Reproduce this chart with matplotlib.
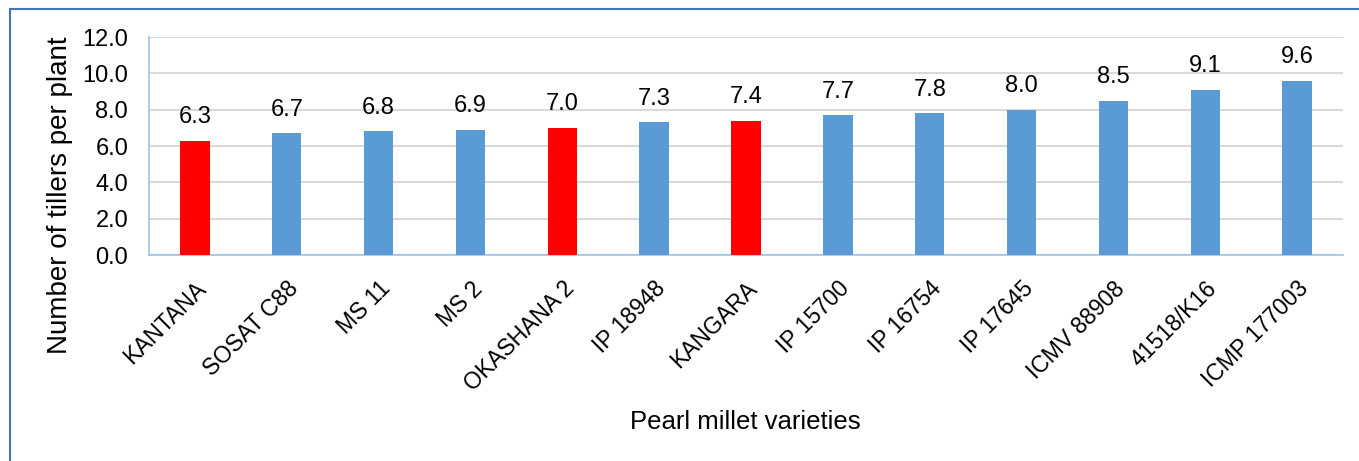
import matplotlib.pyplot as plt
from matplotlib.patches import Rectangle

plt.rcParams['font.family'] = ['Liberation Sans', 'DejaVu Sans']

# data
varieties = ["KANTANA", "SOSAT C88", "MS 11", "MS 2", "OKASHANA 2", "IP 18948",
             "KANGARA", "IP 15700", "IP 16754", "IP 17645", "ICMV 88908",
             "41518/K16", "ICMP 177003"]
tillers = [6.3, 6.7, 6.8, 6.9, 7.0, 7.3, 7.4, 7.7, 7.8, 8.0, 8.5, 9.1, 9.6]
local_varieties = ["KANTANA", "OKASHANA 2", "KANGARA"]

colors = ['#FF0000' if v in local_varieties else '#5B9BD5' for v in varieties]

fig = plt.figure(figsize=(13.59, 4.61), dpi=100)
ax = fig.add_axes([149/1359, 1 - 255/461, (1343 - 149)/1359, (255 - 37)/461])

x = range(len(varieties))
bars = ax.bar(x, tillers, width=0.32, color=colors, zorder=3)
for b, v in zip(bars, tillers):
    ax.annotate(f"{v:.1f}", (b.get_x() + b.get_width()/2, v),
                xytext=(0, 9), textcoords='offset points',
                ha='center', va='bottom', fontsize=17)

ax.set_xlim(-0.5, len(varieties) - 0.5)
ax.set_ylim(0, 12)
ax.set_yticks([0, 2, 4, 6, 8, 10, 12])
ax.set_yticklabels([f"{t:.1f}" for t in [0, 2, 4, 6, 8, 10, 12]], fontsize=17)
ax.set_xticks(list(x))
ax.set_xticklabels(varieties, rotation=45, ha='right', rotation_mode='anchor',
                   fontsize=16.5)
ax.tick_params(axis='y', length=0, pad=15)
ax.tick_params(axis='x', length=0, pad=16)
ax.yaxis.grid(True, color='#D9D9D9', linewidth=1.5, zorder=0)
ax.set_axisbelow(True)

for s in ['top', 'right']:
    ax.spines[s].set_visible(False)
for s in ['left', 'bottom']:
    ax.spines[s].set_color('#9DC3E6')
    ax.spines[s].set_linewidth(1.2)

ax.set_ylabel("Number of tillers per plant", fontsize=20)
ax.yaxis.set_label_coords(-76/1194, (255 - 195)/218)
fig.text(745/1359, 1 - 422/461, "Pearl millet varieties", fontsize=18.5,
         ha='center', va='center')

# outer chart border
fig.patches.append(Rectangle((10/1359, -0.1), 1.1, 1.1 - 9/461,
                             transform=fig.transFigure, fill=False,
                             edgecolor='#4472C4', linewidth=1.5))

fig.savefig("out.png", dpi=100)
